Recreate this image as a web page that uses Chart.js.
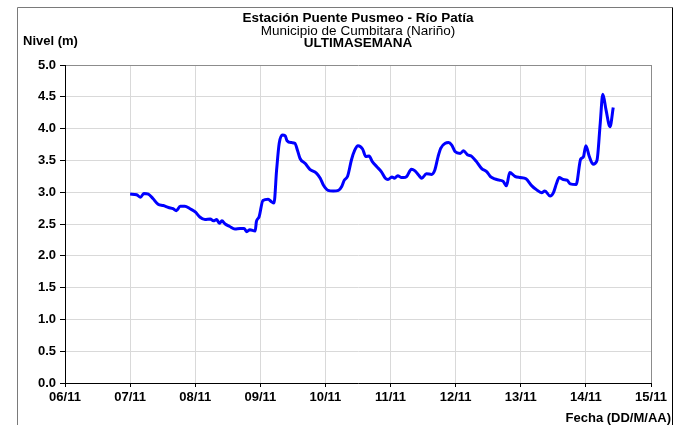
<!DOCTYPE html>
<html>
<head>
<meta charset="utf-8">
<script src="https://cdn.jsdelivr.net/npm/chart.js@4.4.1/dist/chart.umd.min.js"></script>
<style>
  body { margin: 0; background: #fff; }
  canvas { display: block; }
</style>
</head>
<body>
<canvas id="nivelChart" width="681" height="425"></canvas>
<script>
// etiquetas del eje X (un día por división)
const fechas = ['06/11', '07/11', '08/11', '09/11', '10/11', '11/11', '12/11', '13/11', '14/11', '15/11'];

// tiempo en días desde 06/11 00:00
const dias = [
  1.00, 1.10, 1.16, 1.21, 1.28, 1.35, 1.43, 1.51, 1.59, 1.66, 1.71, 1.77, 1.84, 1.92, 2.00,
  2.07, 2.15, 2.23, 2.28, 2.33, 2.37, 2.41, 2.46, 2.53, 2.61, 2.69, 2.75, 2.79, 2.84, 2.92,
  2.94, 2.98, 3.04, 3.12, 3.17, 3.21, 3.25, 3.29, 3.34, 3.38, 3.41, 3.48, 3.53, 3.57, 3.61,
  3.69, 3.76, 3.86, 3.92, 3.97, 4.04, 4.12, 4.20, 4.25, 4.29, 4.34, 4.40, 4.45, 4.50, 4.57,
  4.62, 4.67, 4.72, 4.79, 4.86, 4.92, 4.96, 5.02, 5.06, 5.11, 5.17, 5.20, 5.25, 5.32, 5.37,
  5.43, 5.48, 5.55, 5.63, 5.68, 5.73, 5.77, 5.84, 5.89, 5.94, 5.99, 6.07, 6.12, 6.18, 6.25,
  6.32, 6.40, 6.48, 6.53, 6.60, 6.67, 6.73, 6.78, 6.83, 6.91, 6.99, 7.08, 7.17, 7.24, 7.32,
  7.37, 7.45, 7.50, 7.55, 7.59, 7.65, 7.71, 7.76, 7.85, 7.92, 7.96, 8.00, 8.05, 8.11, 8.17,
  8.22, 8.26, 8.31, 8.37, 8.42
];

// nivel del río (m)
const nivel = [
  2.97, 2.96, 2.92, 2.98, 2.97, 2.90, 2.81, 2.79, 2.76, 2.74, 2.71, 2.78, 2.78, 2.74, 2.69,
  2.61, 2.57, 2.58, 2.55, 2.57, 2.51, 2.55, 2.50, 2.46, 2.42, 2.43, 2.43, 2.38, 2.41, 2.39,
  2.54, 2.61, 2.87, 2.89, 2.85, 2.83, 3.35, 3.77, 3.90, 3.89, 3.81, 3.78, 3.77, 3.66, 3.53,
  3.45, 3.36, 3.30, 3.22, 3.11, 3.03, 3.02, 3.03, 3.09, 3.19, 3.25, 3.51, 3.66, 3.73, 3.68,
  3.56, 3.57, 3.48, 3.40, 3.32, 3.22, 3.20, 3.24, 3.22, 3.26, 3.23, 3.23, 3.25, 3.36, 3.34,
  3.27, 3.22, 3.29, 3.28, 3.35, 3.56, 3.69, 3.77, 3.78, 3.74, 3.64, 3.61, 3.65, 3.59, 3.56,
  3.48, 3.37, 3.32, 3.25, 3.21, 3.19, 3.17, 3.10, 3.31, 3.25, 3.23, 3.21, 3.10, 3.04, 2.99,
  3.02, 2.94, 2.99, 3.14, 3.23, 3.20, 3.19, 3.13, 3.12, 3.52, 3.55, 3.73, 3.57, 3.44, 3.50,
  4.08, 4.54, 4.29, 4.03, 4.33
];

const titulo = 'Estación Puente Pusmeo - Río Patía';
const subtitulo = 'Municipio de Cumbitara (Nariño)';
const periodo = 'ULTIMASEMANA';
const ejeY = 'Nivel (m)';
const ejeX = 'Fecha (DD/M/AA)';

const fuente = '"Liberation Sans", Arial, sans-serif';

// marco exterior, títulos y rótulos de los ejes
const marcoPlugin = {
  id: 'marco',
  beforeDraw(chart) {
    const ctx = chart.ctx;
    ctx.save();
    ctx.fillStyle = '#fff';
    ctx.fillRect(0, 0, chart.width, chart.height);
    ctx.restore();
  },
  afterDraw(chart) {
    const ctx = chart.ctx;
    const area = chart.chartArea;
    const cx = (area.left + area.right) / 2;
    ctx.save();
    ctx.lineWidth = 1;
    ctx.strokeStyle = '#7a7a7a';
    ctx.beginPath();
    ctx.moveTo(17.5, chart.height);
    ctx.lineTo(17.5, 7.5);
    ctx.lineTo(672.5, 7.5);
    ctx.stroke();
    ctx.strokeStyle = '#000';
    ctx.beginPath();
    ctx.moveTo(672.5, 7.5);
    ctx.lineTo(672.5, chart.height);
    ctx.stroke();

    ctx.fillStyle = '#000';
    ctx.textBaseline = 'middle';
    ctx.textAlign = 'center';
    ctx.font = 'bold 13.5px ' + fuente;
    ctx.fillText(titulo, cx, 18);
    ctx.font = '13.5px ' + fuente;
    ctx.fillText(subtitulo, cx, 31);
    ctx.font = 'bold 13.5px ' + fuente;
    ctx.fillText(periodo, cx, 43);

    ctx.font = 'bold 13px ' + fuente;
    ctx.textAlign = 'left';
    ctx.fillText(ejeY, 23, 41);
    ctx.textAlign = 'right';
    ctx.fillText(ejeX, 671, 418);
    ctx.restore();
  }
};

new Chart(document.getElementById('nivelChart'), {
  type: 'line',
  data: {
    datasets: [{
      data: dias.map((d, i) => ({ x: d, y: nivel[i] })),
      borderColor: '#0000ff',
      borderWidth: 3,
      pointRadius: 0,
      fill: false,
      cubicInterpolationMode: 'monotone'
    }]
  },
  options: {
    responsive: false,
    animation: false,
    layout: { padding: { top: 65, right: 30, bottom: 0, left: 0 } },
    plugins: {
      legend: { display: false },
      tooltip: { enabled: false }
    },
    scales: {
      x: {
        type: 'linear',
        min: 0,
        max: 9,
        afterFit(scale) { scale.height = 42; },
        ticks: {
          stepSize: 1,
          padding: 3,
          color: '#000',
          font: { family: fuente, size: 13, weight: 'bold' },
          callback: v => fechas[v]
        },
        grid: {
          color: c => (c.tick && c.tick.value === 9 ? '#8c8c8c' : '#d9d9d9'),
          tickColor: '#000',
          tickLength: 4
        },
        border: { color: '#000' }
      },
      y: {
        min: 0,
        max: 5,
        afterFit(scale) { scale.width = 65; },
        ticks: {
          stepSize: 0.5,
          padding: 4,
          color: '#000',
          font: { family: fuente, size: 13, weight: 'bold' },
          callback: v => v.toFixed(1)
        },
        grid: {
          color: c => (c.tick && c.tick.value === 5 ? '#8c8c8c' : '#d9d9d9'),
          tickColor: '#000',
          tickLength: 5
        },
        border: { color: '#000' }
      }
    }
  },
  plugins: [marcoPlugin]
});
</script>
</body>
</html>
